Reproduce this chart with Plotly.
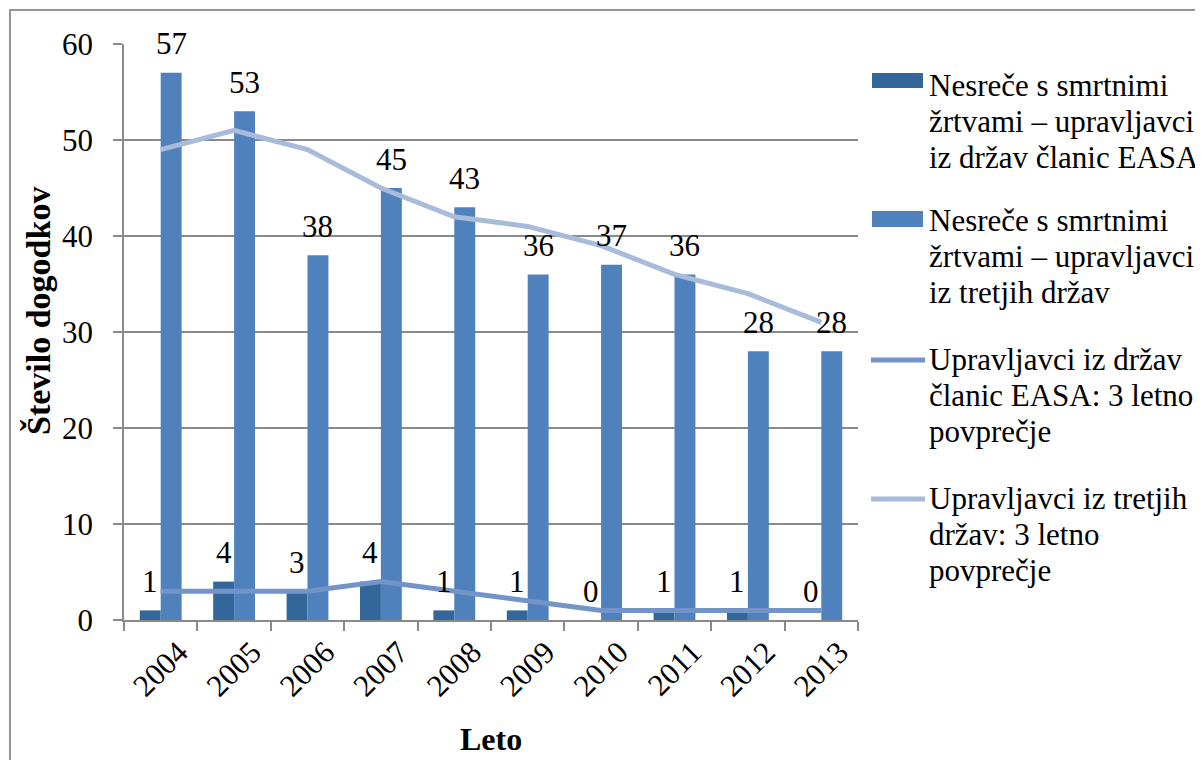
import plotly.graph_objects as go

# ---------------- data ----------------
years = ["2004", "2005", "2006", "2007", "2008", "2009", "2010", "2011", "2012", "2013"]
easa_fatal = [1, 4, 3, 4, 1, 1, 0, 1, 1, 0]
third_fatal = [57, 53, 38, 45, 43, 36, 37, 36, 28, 28]
easa_avg3 = [3, 3, 3, 4, 3, 2, 1, 1, 1, 1]
third_avg3 = [49, 51, 49, 45, 42, 41, 39, 36, 34, 31]
y_ticks = [0, 10, 20, 30, 40, 50, 60]

legend_lines = [
    ["Nesreče s smrtnimi", "žrtvami – upravljavci", "iz držav članic EASA"],
    ["Nesreče s smrtnimi", "žrtvami – upravljavci", "iz tretjih držav"],
    ["Upravljavci iz držav", "članic EASA: 3 letno", "povprečje"],
    ["Upravljavci iz tretjih", "držav: 3 letno", "povprečje"],
]
y_title = "Število dogodkov"
x_title = "Leto"

# ---------------- style ----------------
C_DARK = "#336699"
C_LIGHT = "#4F81BD"
C_EASA_LINE = "#7394C9"
C_THIRD_LINE = "#A8BBDA"
GRID = "#8A8A8A"
FONT = "Liberation Serif, Times New Roman, serif"
FS = 31

# the page places the figure 8px from the top-left corner (default body margin)
OX, OY = 8, 8
W, H = 1195, 752
L, T = 116, 36
PW, PH = 734, 576
R = W - L - PW
B = H - T - PH


def px(xs):
    """screen x pixel -> paper x"""
    return (xs - OX - L) / PW


def py(ys):
    """screen y pixel -> paper y"""
    return (T + PH - (ys - OY)) / PH


fig = go.Figure()

fig.add_trace(go.Bar(x=years, y=easa_fatal, marker=dict(color=C_DARK, line=dict(width=0)),
                     showlegend=False, name=" ".join(legend_lines[0])))
fig.add_trace(go.Bar(x=years, y=third_fatal, marker=dict(color=C_LIGHT, line=dict(width=0)),
                     showlegend=False, name=" ".join(legend_lines[1])))
fig.add_trace(go.Scatter(x=years, y=easa_avg3, mode="lines", line=dict(color=C_EASA_LINE, width=5),
                         showlegend=False, name=" ".join(legend_lines[2])))
fig.add_trace(go.Scatter(x=years, y=third_avg3, mode="lines", line=dict(color=C_THIRD_LINE, width=5),
                         showlegend=False, name=" ".join(legend_lines[3])))

annotations = []
bar_w = PW / len(years) * (1 - 0.43) / 2
# data labels (category axis: position by category index)
for i, v in enumerate(easa_fatal):
    annotations.append(dict(x=i, y=v, xref="x", yref="y", text=str(v), showarrow=False,
                            xshift=-bar_w / 2, yshift=29, yanchor="middle",
                            font=dict(family=FONT, size=FS, color="black")))
for i, v in enumerate(third_fatal):
    annotations.append(dict(x=i, y=v, xref="x", yref="y", text=str(v), showarrow=False,
                            xshift=bar_w / 2, yshift=29, yanchor="middle",
                            font=dict(family=FONT, size=FS, color="black")))

# axis titles
annotations.append(dict(x=px(38), y=py(311), xref="paper", yref="paper", text="<b>%s</b>" % y_title,
                        textangle=-90, showarrow=False, xanchor="center", yanchor="middle",
                        font=dict(family=FONT, size=34, color="black")))
annotations.append(dict(x=px(491), y=py(739), xref="paper", yref="paper", text="<b>%s</b>" % x_title,
                        showarrow=False, xanchor="center", yanchor="middle",
                        font=dict(family=FONT, size=32, color="black")))

# manual legend
entry_tops = [85, 220, 359, 498]
for lines, top in zip(legend_lines, entry_tops):
    for k, t in enumerate(lines):
        annotations.append(dict(x=px(927), y=py(top + 36 * k), xref="paper", yref="paper", text=t,
                                showarrow=False, xanchor="left", yanchor="middle",
                                font=dict(family=FONT, size=FS, color="black")))

shapes = [
    # outer frame
    dict(type="rect", xref="paper", yref="paper", x0=px(10), x1=px(1260), y0=py(800), y1=py(10),
         line=dict(color="#959595", width=2), fillcolor="rgba(0,0,0,0)", layer="below"),
    # legend symbols
    dict(type="rect", xref="paper", yref="paper", x0=px(872), x1=px(923), y0=py(88), y1=py(73),
         line=dict(width=0), fillcolor=C_DARK),
    dict(type="rect", xref="paper", yref="paper", x0=px(872), x1=px(923), y0=py(227), y1=py(211),
         line=dict(width=0), fillcolor=C_LIGHT),
    dict(type="line", xref="paper", yref="paper", x0=px(871), x1=px(925), y0=py(360), y1=py(360),
         line=dict(color=C_EASA_LINE, width=5)),
    dict(type="line", xref="paper", yref="paper", x0=px(871), x1=px(925), y0=py(499), y1=py(499),
         line=dict(color=C_THIRD_LINE, width=5)),
]

fig.update_layout(
    width=W, height=H,
    margin=dict(l=L, r=R, t=T, b=B, pad=0, autoexpand=False),
    paper_bgcolor="white", plot_bgcolor="white",
    barmode="group", bargap=0.43, bargroupgap=0,
    showlegend=False,
    font=dict(family=FONT, size=FS, color="black"),
    annotations=annotations,
    shapes=shapes,
)
fig.update_xaxes(
    type="category", showgrid=False, showline=True, linecolor=GRID, linewidth=1.5,
    ticks="outside", tickson="boundaries", ticklen=9, tickcolor=GRID, tickwidth=1.5,
    tickangle=-45, ticklabelshift=18, ticklabelstandoff=0,
    tickfont=dict(family=FONT, size=FS, color="black"), automargin=False,
)
fig.update_yaxes(
    range=[0, 60], tickvals=y_ticks, ticktext=[str(v) for v in y_ticks],
    showgrid=True, gridcolor=GRID, gridwidth=1.5,
    showline=True, linecolor=GRID, linewidth=1.5,
    ticks="outside", ticklen=9, tickcolor=GRID, tickwidth=1.5, ticklabelstandoff=14,
    zeroline=False, automargin=False,
    tickfont=dict(family=FONT, size=FS, color="black"),
)

fig.write_html("out.html")
